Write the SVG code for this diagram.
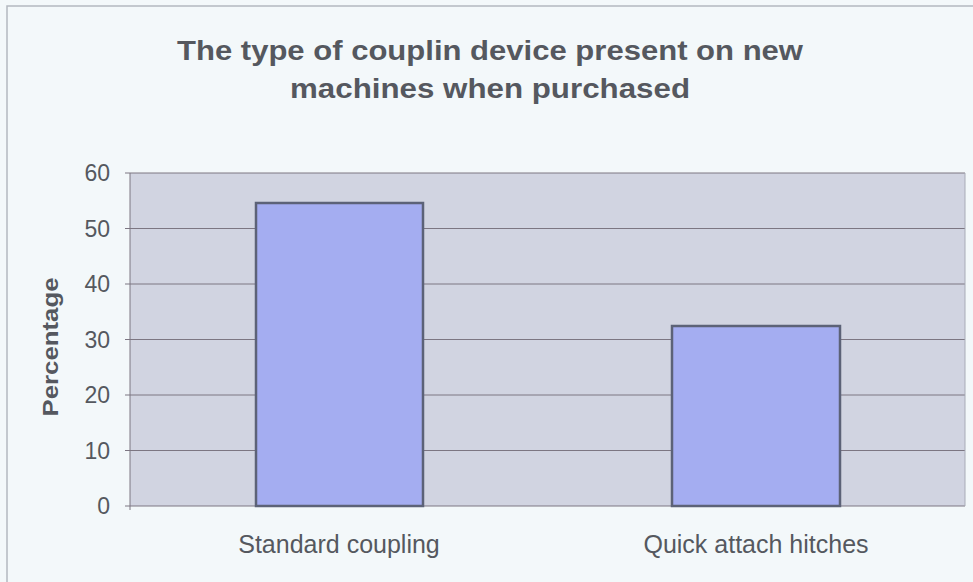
<svg xmlns="http://www.w3.org/2000/svg" width="973" height="582" viewBox="0 0 973 582">
<style>
text{font-family:"Liberation Sans",Arial,sans-serif;fill:#55585f}
.title{font-size:28px;font-weight:bold;text-anchor:middle}
.tick{font-size:23px;text-anchor:end}
.cat{font-size:25px;text-anchor:middle}
.grid{stroke:#7c7682;stroke-width:1}
.bar{fill:#a4adf1;stroke:#5c6277;stroke-width:2.5}
</style>
<rect x="0" y="0" width="973" height="582" fill="#f3f8fa"/>
<path d="M7 582V6H973" fill="none" stroke="#b4b8c0" stroke-width="1.5"/>
<g id="title">
<text class="title" x="490" y="60" textLength="626" lengthAdjust="spacingAndGlyphs">The type of couplin device present on new</text>
<text class="title" x="490" y="98" textLength="400" lengthAdjust="spacingAndGlyphs">machines when purchased</text>
</g>
<g id="plot">
<rect x="130" y="173" width="835" height="333" fill="#d1d4e1"/>
<g class="grid">
<line x1="130" y1="173" x2="965" y2="173"/>
<line x1="130" y1="228.5" x2="965" y2="228.5"/>
<line x1="130" y1="284" x2="965" y2="284"/>
<line x1="130" y1="339.5" x2="965" y2="339.5"/>
<line x1="130" y1="395" x2="965" y2="395"/>
<line x1="130" y1="450.5" x2="965" y2="450.5"/>
<line x1="125" y1="506" x2="965" y2="506"/>
<line x1="130" y1="173" x2="130" y2="510"/>
<line x1="965" y1="173" x2="965" y2="506" stroke="#a8abb6"/>
<line x1="125" y1="173" x2="130" y2="173"/>
<line x1="125" y1="228.5" x2="130" y2="228.5"/>
<line x1="125" y1="284" x2="130" y2="284"/>
<line x1="125" y1="339.5" x2="130" y2="339.5"/>
<line x1="125" y1="395" x2="130" y2="395"/>
<line x1="125" y1="450.5" x2="130" y2="450.5"/>
</g>
</g>
<g id="bar-standard"><rect class="bar" x="256" y="203" width="167" height="303"/></g>
<g id="bar-quick"><rect class="bar" x="672" y="326" width="168" height="180"/></g>
<g id="yaxis">
<text class="tick" x="110" y="181">60</text>
<text class="tick" x="110" y="236.5">50</text>
<text class="tick" x="110" y="292">40</text>
<text class="tick" x="110" y="347.5">30</text>
<text class="tick" x="110" y="403">20</text>
<text class="tick" x="110" y="458.5">10</text>
<text class="tick" x="110" y="514">0</text>
<text x="0" y="0" transform="translate(58,347) rotate(-90)" text-anchor="middle" font-size="22" font-weight="bold" textLength="139" lengthAdjust="spacingAndGlyphs">Percentage</text>
</g>
<g id="xaxis">
<text class="cat" x="339" y="553">Standard coupling</text>
<text class="cat" x="756" y="553">Quick attach hitches</text>
</g>
</svg>
